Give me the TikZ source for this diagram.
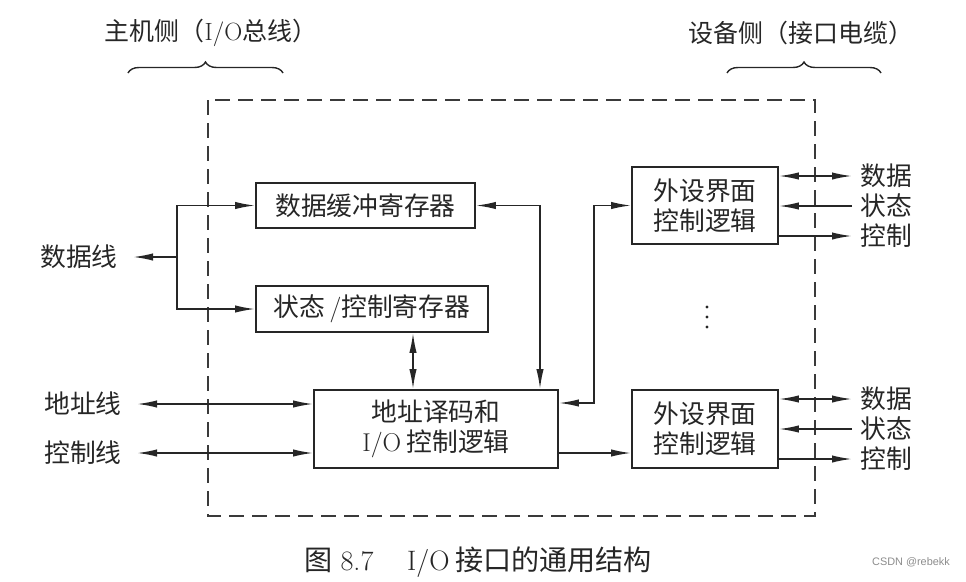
\documentclass[tikz,border=0pt]{standalone}
\usepackage{fontspec}
\newfontfamily\cjk{Noto Sans CJK SC}
\newfontfamily\wmfont{Liberation Sans}
\usetikzlibrary{arrows.meta,decorations.pathreplacing,calc}
\definecolor{ink}{HTML}{262626}
\definecolor{frameink}{HTML}{3A3A3A}

\begin{document}
\begin{tikzpicture}[
  x=0.03cm, y=-0.03cm,
  >={Latex[length=0.6cm,width=0.22cm]},
  conn/.style={draw=ink, line width=1.4pt},
  box/.style={draw=ink, line width=1.4pt, fill=white, inner sep=0pt,
    text=ink, align=center, font=\cjk\fontsize{22}{25.6}\selectfont},
  lbl/.style={text=ink, font=\cjk\fontsize{22}{26}\selectfont, inner ysep=2pt},
  leftlbl/.style={lbl, anchor=east, inner xsep=0.45cm},
  rightlbl/.style={lbl, anchor=west, inner xsep=0.24cm},
  toplbl/.style={text=ink, font=\cjk\fontsize{21.3}{24}\selectfont},
  bracestyle/.style={draw=ink, line width=1.2pt,
    decorate, decoration={brace, amplitude=0.33cm}},
  frame/.style={draw=frameink, line width=1.4pt,
    dash pattern=on 0.45cm off 0.24cm},
  captionstyle/.style={text=ink, font=\fontsize{24}{28}\selectfont},
  wmark/.style={text=black!45, font=\wmfont\fontsize{9.3}{11}\selectfont}
]
\useasboundingbox (0,0) rectangle (966,582);

% side labels and braces
\node[toplbl] (host) at (211,33) {主机侧（{\rmfamily I/O}总线）};
\node[toplbl] (dev) at (801,33) {设备侧（接口电缆）};
\draw[bracestyle] (128,73) -- (283,73);
\draw[bracestyle] (727,73) -- (881,73);

% interface boundary
\draw[frame] (208,100) rectangle (815,516);

% registers and logic blocks
\node[box, minimum width=6.57cm, minimum height=1.35cm] (A) at (365.5,205.5) {数据缓冲寄存器};
\node[box, minimum width=6.96cm, minimum height=1.38cm] (B) at (372,309) {状态{\rmfamily\,/}控制寄存器};
\node[box, minimum width=7.32cm, minimum height=2.34cm] (C) at (436,429) {地址译码和\\{\rmfamily I/O}\hspace{0.2em}控制逻辑};
\node[box, minimum width=4.38cm, minimum height=2.31cm] (D) at (705,205.5) {外设界面\\控制逻辑};
\node[box, minimum width=4.38cm, minimum height=2.34cm] (E) at (705,429) {外设界面\\控制逻辑};

% host-side bus labels
\node[leftlbl] (dl) at (133,257) {数据线};
\node[leftlbl] (al) at (137,404) {地址线};
\node[leftlbl] (cl) at (137,453) {控制线};

% data lines fan out to both registers
\coordinate (J) at (177,257);
\draw[conn,->] (J) -- (dl.east);
\draw[conn,->] (J) |- (A.west);
\draw[conn,->] (J) |- (B.west);

% address and control lines
\draw[conn,<->] (al.east) -- (al.east -| C.west);
\draw[conn,<->] (cl.east) -- (cl.east -| C.west);

% internal paths
\coordinate (xb) at (413,0);
\draw[conn,<->] (B.south -| xb) -- (C.north -| xb);
\coordinate (xa) at (540,0);
\draw[conn,<->] (A.east) -| (xa |- C.north);
\coordinate (k) at (594,403);
\draw[conn,<->] (k -| C.east) -- (k) |- (D.west);
\coordinate (k2) at (0,453);
\draw[conn,->] (k2 -| C.east) -- (k2 -| E.west);

% device-side signals, first device
\node[rightlbl] (d1) at (852,176) {数据};
\node[rightlbl] (s1) at (852,206) {状态};
\node[rightlbl] (c1) at (852,236) {控制};
\draw[conn,<->] (d1.west -| D.east) -- (d1.west);
\draw[conn,->] (s1.west) -- (s1.west -| D.east);
\draw[conn,->] (c1.west -| D.east) -- (c1.west);

% device-side signals, last device
\node[rightlbl] (d2) at (852,399) {数据};
\node[rightlbl] (s2) at (852,429) {状态};
\node[rightlbl] (c2) at (852,459) {控制};
\draw[conn,<->] (d2.west -| E.east) -- (d2.west);
\draw[conn,->] (s2.west) -- (s2.west -| E.east);
\draw[conn,->] (c2.west -| E.east) -- (c2.west);

% vertical ellipsis between devices
\foreach \yy in {307,317,327} \fill[ink] (707,\yy) circle (0.05cm);

% caption
\node[captionstyle] (cap) at (478,562) {{\cjk 图}\hspace{0.3em}8.7\hspace{1.2em}I/O\hspace{0.2em}{\cjk 接口的通用结构}};
\node[wmark] (wm) at (911,562) {CSDN @rebekk};
\end{tikzpicture}
\end{document}
